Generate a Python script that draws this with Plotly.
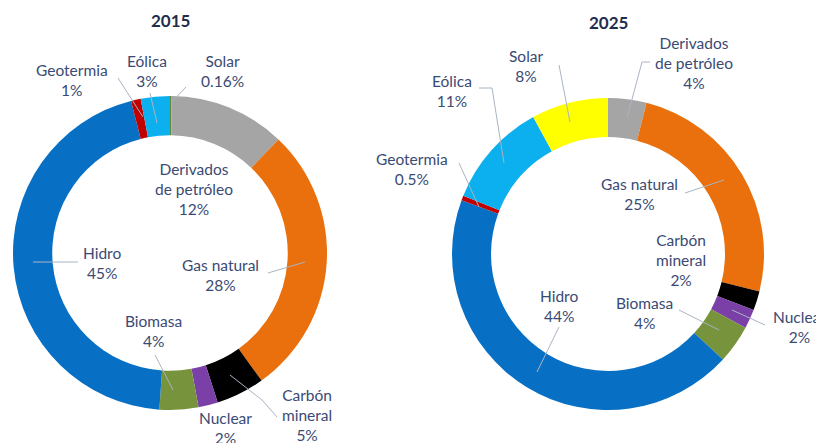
import plotly.graph_objects as go

# The page body adds an 8px offset, so the figure is sized/offset to compensate.
OFF = 8
W, H = 824 - OFF, 443 - OFF

categories_2015 = ["Solar", "Derivados<br>de petróleo", "Gas natural", "Carbón<br>mineral",
                   "Nuclear", "Biomasa", "Hidro", "Geotermia", "Eólica"]
values_2015 = [0.16, 12, 28, 5, 2, 4, 45, 1, 3]
pct_2015 = ["0.16%", "12%", "28%", "5%", "2%", "4%", "45%", "1%", "3%"]

categories_2025 = ["Derivados<br>de petróleo", "Gas natural", "Carbón<br>mineral", "Nuclear",
                   "Biomasa", "Hidro", "Geotermia", "Eólica", "Solar"]
values_2025 = [4, 25, 2, 2, 4, 44, 0.5, 11, 8]
pct_2025 = ["4%", "25%", "2%", "2%", "4%", "44%", "0.5%", "11%", "8%"]

color_map = {
    "Solar": "#FFFF00",
    "Derivados<br>de petróleo": "#A5A5A5",
    "Gas natural": "#E9700C",
    "Carbón<br>mineral": "#000000",
    "Nuclear": "#7B3FA8",
    "Biomasa": "#77933C",
    "Hidro": "#0870C4",
    "Geotermia": "#C00000",
    "Eólica": "#0DB0EE",
}
colors_2015 = [color_map[c] for c in categories_2015]
colors_2015[0] = "#5E8A3A"  # thin solar sliver appears dark green
colors_2025 = [color_map[c] for c in categories_2025]

TXT = "#3A4A74"
FONT = "Lato"


def px(x, y):
    return (x - OFF) / W, 1 - (y - OFF) / H


def dom(cx, cy, r):
    x0, y1 = px(cx - r, cy - r)
    x1, y0 = px(cx + r, cy + r)
    return dict(x=[x0, x1], y=[y0, y1])


fig = go.Figure()
fig.add_trace(go.Pie(labels=categories_2015, values=values_2015, sort=False,
                     direction="clockwise", rotation=0, hole=0.75,
                     marker=dict(colors=colors_2015, line=dict(width=0)),
                     textinfo="none", hoverinfo="label+value", showlegend=False,
                     domain=dom(170, 253, 157)))
fig.add_trace(go.Pie(labels=categories_2025, values=values_2025, sort=False,
                     direction="clockwise", rotation=0, hole=0.75,
                     marker=dict(colors=colors_2025, line=dict(width=0)),
                     textinfo="none", hoverinfo="label+value", showlegend=False,
                     domain=dom(608, 254, 156)))

# label positions (pixel centres) per category
pos_2015 = {
    "Solar": (222, 71), "Derivados<br>de petróleo": (194, 189), "Gas natural": (220, 275),
    "Carbón<br>mineral": (307, 415), "Nuclear": (225, 428), "Biomasa": (153, 331),
    "Hidro": (102, 263), "Geotermia": (72, 80), "Eólica": (147, 71),
}
pos_2025 = {
    "Derivados<br>de petróleo": (694, 63), "Gas natural": (639, 194), "Carbón<br>mineral": (681, 260),
    "Nuclear": (799, 327), "Biomasa": (644, 313), "Hidro": (559, 306),
    "Geotermia": (412, 169), "Eólica": (452, 91), "Solar": (526, 66),
}

annotations = []
for cats, pcts, pos in [(categories_2015, pct_2015, pos_2015), (categories_2025, pct_2025, pos_2025)]:
    for c, p in zip(cats, pcts):
        x, y = px(*pos[c])
        annotations.append(dict(x=x, y=y, xref="paper", yref="paper", text=f"{c}<br>{p}",
                                showarrow=False, xanchor="center", yanchor="middle",
                                font=dict(family=FONT, size=15.5, color=TXT)))

for t, (cx, cy) in [("2015", (170, 20)), ("2025", (608, 22))]:
    x, y = px(cx, cy)
    annotations.append(dict(x=x, y=y, xref="paper", yref="paper", text=f"<b>{t}</b>",
                            showarrow=False, xanchor="center", yanchor="middle",
                            font=dict(family=FONT, size=17, color="#1F2D4F")))

leaders = [
    [(118, 78), (143, 117)],
    [(150, 93), (157, 123)],
    [(186, 87), (171, 103)],
    [(268, 273), (305, 262)],
    [(33, 262), (78, 262)],
    [(155, 355), (173, 390)],
    [(277, 417), (262, 400), (230, 375)],
    [(650, 62), (642, 62), (627, 118)],
    [(559, 65), (570, 122)],
    [(479, 88), (492, 88), (504, 163)],
    [(459, 163), (479, 207)],
    [(685, 193), (724, 180)],
    [(679, 310), (719, 330)],
    [(765, 325), (732, 310)],
    [(559, 327), (537, 372)],
]
shapes = []
for pts in leaders:
    path = "M " + " L ".join("{:.5f},{:.5f}".format(*px(x, y)) for x, y in pts)
    shapes.append(dict(type="path", path=path, xref="paper", yref="paper",
                       line=dict(color="#A9B4C4", width=1)))

fig.update_layout(width=W, height=H, margin=dict(l=0, r=0, t=0, b=0),
                  paper_bgcolor="white", plot_bgcolor="white",
                  annotations=annotations, shapes=shapes)

fig.write_html("out.html")
